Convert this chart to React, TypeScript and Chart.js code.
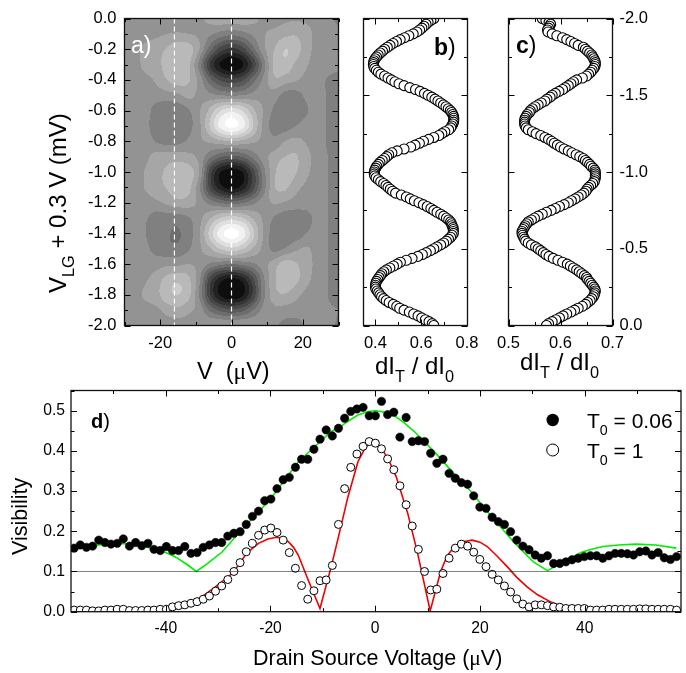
import React, { useEffect, useRef } from "react";
import { Chart, registerables } from "chart.js";

Chart.register(...registerables);

const heatX = [-30, -27, -24, -21, -18, -15, -12, -9, -6, -3, 0, 3, 6, 9, 12, 15, 18, 21, 24, 27, 30];
const heatY = [0, -0.1, -0.2, -0.3, -0.4, -0.5, -0.6, -0.7, -0.8, -0.9, -1, -1.1, -1.2, -1.3, -1.4, -1.5, -1.6, -1.7, -1.8, -1.9, -2];
const heatZ = [
  [0, 0, 0, 0, 0, 0, 0.1, 0.3, 0.8, 1.1, 1.1, 1.1, 0.8, 0.3, 0.1, 0.3, 0.4, 0.3, 0.1, -0.2, -0.7],
  [0, 0, 0.1, 0.3, 0.5, 0.6, 0.5, 0.3, -0.3, -0.9, -1.2, -0.9, -0.3, 0.4, 0.8, 1.2, 1.4, 0.9, 0.2, 0, -0.3],
  [0, 0.2, 0.8, 1.1, 1.6, 2.3, 2, 0.5, -2.1, -4, -4.8, -4, -1.9, 0.2, 1.5, 2.5, 2, 0.9, 0.2, 0, -0.3],
  [0, 0.1, 0.9, 1.2, 1.9, 2.4, 1.7, -0.9, -4.6, -6.7, -7.4, -6.7, -4.3, -1, 1.8, 2.2, 1.3, 0.6, 0.1, 0, -0.2],
  [0, 0, 0.2, 0.7, 1.5, 2, 1.6, 0.1, -2.2, -3.7, -4.2, -3.7, -2, -0.2, 1.3, 1, 0.6, 0.2, 0, -0.6, -0.9],
  [0, 0, 0, 0, 0.1, 0.3, 0.8, 0.2, -0.2, -0.5, -0.6, -0.5, -0.1, 0.2, 0, -0.9, -0.9, -0.3, 0, -0.6, -0.9],
  [0, 0, -0.1, -1, -1.3, -1.2, -0.6, 0.4, 1.8, 3.5, 4.2, 3.5, 1.8, 0.4, -0.7, -1.2, -1.1, -0.6, -0.1, -0.6, -1],
  [0, 0, -0.2, -1.2, -1.4, -1.3, -0.8, 0.3, 2.6, 4.9, 5.8, 4.9, 2.6, 0.2, -0.9, -1, -0.5, -0.1, 0, -0.6, -1.1],
  [0, 0, 0, -0.6, -0.9, -0.8, -0.3, 0.3, 0.7, 1.2, 1.5, 1.2, 0.7, 0.2, -0.2, 0.5, 0.8, 0.4, 0, -0.6, -0.9],
  [0, 0.1, 0.3, 0.9, 1, 1, 0.8, 0.2, -1.3, -2.4, -2.8, -2.4, -1.2, 0.1, 0.9, 1.5, 1.6, 0.8, 0.1, -0.5, -0.8],
  [0, 0, 0.6, 1.2, 1.7, 2.3, 2, 0.5, -4, -6.5, -7.2, -6.5, -4, -0.9, 1.3, 2.2, 1.6, 0.7, 0.1, -0.5, -0.8],
  [0, 0, 0.6, 1.1, 1.6, 2.3, 1.8, -0.3, -3.9, -6.1, -6.9, -6.1, -3.9, -1, 1.4, 1.7, 0.8, 0.3, 0, -0.5, -0.7],
  [0, 0, 0.1, 0.3, 0.7, 1.1, 1, 0.2, -0.9, -1.6, -2, -1.6, -0.8, 0.1, 0.6, 0.4, 0.1, 0, 0, -0.5, -0.8],
  [0, 0, -0.4, -1, -1, -1, -0.6, 0.2, 1.4, 2.6, 3, 2.6, 1.4, 0.3, -0.6, -1.1, -1.2, -0.9, -0.2, -0.5, -0.9],
  [0, 0, -0.5, -1.1, -1.4, -1.6, -0.9, 0.4, 2.9, 5.1, 6, 5.1, 2.8, 0.4, -1, -1.3, -1.2, -0.5, -0.1, -0.5, -1],
  [0, 0, -0.3, -0.9, -1.2, -1.2, -0.6, 0.3, 1.4, 2.6, 3.2, 2.6, 1.4, 0.2, -0.8, -0.4, 0.3, 0.6, 0.1, -0.5, -0.9],
  [0, 0, 0, 0.1, 0.3, 0.3, 0.5, 0.2, -0.7, -1.2, -1.5, -1.2, -0.7, 0.1, 1, 2, 1.6, 0.9, 0.2, -0.5, -0.9],
  [0, 0, 0.4, 1, 1.9, 2.3, 1.7, -0.3, -4, -6.1, -6.8, -6.1, -3.8, -0.7, 1.3, 2.4, 1.8, 0.8, 0.1, -0.5, -0.8],
  [0, 0.2, 0.7, 1.2, 2.2, 2.5, 1.8, -0.6, -4.4, -6.7, -7.4, -6.7, -4.3, -0.8, 1.1, 1.4, 0.8, 0.2, -0.1, -0.5, -0.7],
  [0, 0, 0.1, 0.3, 0.9, 1.2, 0.7, 0.1, -1.7, -2.8, -3.2, -2.8, -1.5, -0.2, 0.2, 0.1, 0, -0.1, -0.2, -0.4, -0.5],
  [0, 0, 0, 0, 0, 0, 0.1, 0.1, 0.5, 0.6, 0.6, 0.6, 0.4, 0.1, -0.3, -0.8, -0.9, -0.3, -0.1, -0.2, -0.6],
];
const heatGrays = [14, 33, 52, 71, 90, 109, 128, 147, 166, 185, 204, 223, 242, 255];
const heatGuides = [-16, 0];

const gateBias = [
  0, -0.0125, -0.025, -0.0375, -0.05, -0.0625, -0.075, -0.0875, -0.1, -0.1125, -0.125, -0.1375, -0.15, -0.1625, -0.175, -0.1875,
  -0.2, -0.2125, -0.225, -0.2375, -0.25, -0.2625, -0.275, -0.2875, -0.3, -0.3125, -0.325, -0.3375, -0.35, -0.3625, -0.375, -0.3875,
  -0.4, -0.4125, -0.425, -0.4375, -0.45, -0.4625, -0.475, -0.4875, -0.5, -0.5125, -0.525, -0.5375, -0.55, -0.5625, -0.575, -0.5875,
  -0.6, -0.6125, -0.625, -0.6375, -0.65, -0.6625, -0.675, -0.6875, -0.7, -0.7125, -0.725, -0.7375, -0.75, -0.7625, -0.775, -0.7875,
  -0.8, -0.8125, -0.825, -0.8375, -0.85, -0.8625, -0.875, -0.8875, -0.9, -0.9125, -0.925, -0.9375, -0.95, -0.9625, -0.975, -0.9875,
  -1, -1.0125, -1.025, -1.0375, -1.05, -1.0625, -1.075, -1.0875, -1.1, -1.1125, -1.125, -1.1375, -1.15, -1.1625, -1.175, -1.1875,
  -1.2, -1.2125, -1.225, -1.2375, -1.25, -1.2625, -1.275, -1.2875, -1.3, -1.3125, -1.325, -1.3375, -1.35, -1.3625, -1.375, -1.3875,
  -1.4, -1.4125, -1.425, -1.4375, -1.45, -1.4625, -1.475, -1.4875, -1.5, -1.5125, -1.525, -1.5375, -1.55, -1.5625, -1.575, -1.5875,
  -1.6, -1.6125, -1.625, -1.6375, -1.65, -1.6625, -1.675, -1.6875, -1.7, -1.7125, -1.725, -1.7375, -1.75, -1.7625, -1.775, -1.7875,
  -1.8, -1.8125, -1.825, -1.8375, -1.85, -1.8625, -1.875, -1.8875, -1.9, -1.9125, -1.925, -1.9375, -1.95, -1.9625, -1.975, -1.9875, -2,
];
const panelB = [
  0.655, 0.642, 0.63, 0.621, 0.612, 0.603, 0.593, 0.581, 0.565, 0.546, 0.527, 0.508, 0.492, 0.477, 0.464, 0.452,
  0.44, 0.431, 0.421, 0.412, 0.405, 0.399, 0.394, 0.392, 0.391, 0.393, 0.397, 0.404, 0.413, 0.424, 0.44, 0.455,
  0.47, 0.485, 0.503, 0.525, 0.55, 0.575, 0.595, 0.614, 0.63, 0.646, 0.66, 0.673, 0.685, 0.697, 0.708, 0.718,
  0.727, 0.733, 0.738, 0.741, 0.742, 0.742, 0.741, 0.738, 0.733, 0.729, 0.72, 0.703, 0.69, 0.677, 0.655, 0.632,
  0.61, 0.592, 0.573, 0.554, 0.525, 0.495, 0.472, 0.458, 0.45, 0.44, 0.43, 0.42, 0.413, 0.406, 0.401, 0.397,
  0.395, 0.395, 0.397, 0.403, 0.413, 0.423, 0.436, 0.446, 0.455, 0.465, 0.475, 0.488, 0.513, 0.535, 0.552, 0.57,
  0.59, 0.609, 0.626, 0.642, 0.655, 0.669, 0.685, 0.698, 0.71, 0.72, 0.728, 0.732, 0.735, 0.739, 0.74, 0.74,
  0.74, 0.735, 0.728, 0.719, 0.71, 0.698, 0.685, 0.669, 0.655, 0.64, 0.622, 0.605, 0.585, 0.56, 0.535, 0.509,
  0.495, 0.479, 0.463, 0.448, 0.437, 0.428, 0.422, 0.416, 0.41, 0.405, 0.402, 0.4, 0.4, 0.402, 0.408, 0.414,
  0.42, 0.427, 0.436, 0.447, 0.46, 0.478, 0.493, 0.506, 0.525, 0.548, 0.567, 0.586, 0.602, 0.618, 0.634, 0.648, 0.655,
];
const panelC = [
  0.573, 0.577, 0.584, 0.591, 0.598, 0.605, 0.612, 0.62, 0.627, 0.634, 0.642, 0.648, 0.652, 0.657, 0.66, 0.663,
  0.665, 0.666, 0.667, 0.666, 0.664, 0.661, 0.658, 0.655, 0.652, 0.65, 0.646, 0.641, 0.636, 0.631, 0.625, 0.619,
  0.613, 0.604, 0.595, 0.586, 0.578, 0.572, 0.567, 0.562, 0.557, 0.552, 0.544, 0.538, 0.533, 0.531, 0.529, 0.527,
  0.526, 0.526, 0.528, 0.53, 0.532, 0.535, 0.538, 0.544, 0.55, 0.557, 0.565, 0.573, 0.582, 0.59, 0.598, 0.607,
  0.615, 0.621, 0.628, 0.634, 0.64, 0.645, 0.649, 0.651, 0.654, 0.658, 0.662, 0.665, 0.666, 0.667, 0.667, 0.667,
  0.667, 0.666, 0.663, 0.659, 0.656, 0.652, 0.648, 0.644, 0.637, 0.63, 0.622, 0.615, 0.607, 0.6, 0.594, 0.588,
  0.583, 0.577, 0.57, 0.562, 0.553, 0.546, 0.538, 0.534, 0.532, 0.531, 0.531, 0.531, 0.532, 0.534, 0.536, 0.54,
  0.542, 0.546, 0.551, 0.557, 0.563, 0.57, 0.574, 0.58, 0.584, 0.59, 0.597, 0.604, 0.609, 0.615, 0.62, 0.625,
  0.631, 0.642, 0.65, 0.654, 0.658, 0.661, 0.664, 0.666, 0.667, 0.667, 0.666, 0.664, 0.662, 0.66, 0.656, 0.652,
  0.648, 0.644, 0.634, 0.627, 0.62, 0.612, 0.604, 0.593, 0.584, 0.576, 0.575, 0.577, 0.579, 0.581, 0.578, 0.572, 0.565,
];

const drainSource = [
  -57.5, -56.33, -55.15, -53.98, -52.8, -51.63, -50.46, -49.28, -48.11, -46.93, -45.76, -44.59, -43.41, -42.24, -41.06, -39.89, -38.72, -37.54, -36.37, -35.19,
  -34.02, -32.85, -31.67, -30.5, -29.32, -28.15, -26.98, -25.8, -24.63, -23.45, -22.28, -21.11, -19.93, -18.76, -17.58, -16.41, -15.24, -14.06, -12.89, -11.71,
  -10.54, -9.37, -8.19, -7.02, -5.84, -4.67, -3.5, -2.32, -1.15, 0.03, 1.2, 2.37, 3.55, 4.72, 5.9, 7.07, 8.24, 9.42, 10.59, 11.77,
  12.94, 14.11, 15.29, 16.46, 17.64, 18.81, 19.98, 21.16, 22.33, 23.51, 24.68, 25.85, 27.03, 28.2, 29.38, 30.55, 31.72, 32.9, 34.07, 35.25,
  36.42, 37.59, 38.77, 39.94, 41.12, 42.29, 43.46, 44.64, 45.81, 46.99, 48.16, 49.33, 50.51, 51.68, 52.86, 54.03, 55.2, 56.38, 57.55,
];
const filledT006 = [
  0.158, 0.166, 0.16, 0.163, 0.178, 0.172, 0.168, 0.17, 0.181, 0.163, 0.172, 0.164, 0.17, 0.155, 0.152, 0.162, 0.152, 0.152, 0.162, 0.145,
  0.147, 0.16, 0.166, 0.172, 0.172, 0.188, 0.195, 0.199, 0.217, 0.237, 0.25, 0.276, 0.28, 0.306, 0.328, 0.334, 0.359, 0.379, 0.379, 0.404,
  0.429, 0.452, 0.437, 0.456, 0.481, 0.498, 0.504, 0.508, 0.487, 0.487, 0.523, 0.49, 0.496, 0.434, 0.483, 0.423, 0.425, 0.423, 0.394, 0.369,
  0.379, 0.344, 0.332, 0.321, 0.317, 0.288, 0.26, 0.257, 0.235, 0.224, 0.217, 0.199, 0.178, 0.163, 0.154, 0.141, 0.133, 0.139, 0.12, 0.12,
  0.124, 0.129, 0.133, 0.137, 0.139, 0.139, 0.133, 0.139, 0.145, 0.145, 0.144, 0.141, 0.149, 0.151, 0.141, 0.147, 0.134, 0.13, 0.137,
];
const openT1 = [
  0.004, 0.004, 0.004, 0.002, 0.002, 0.004, 0.004, 0.006, 0.006, 0.003, 0.003, 0.003, 0.004, 0.004, 0.006, 0.006, 0.012, 0.015, 0.017, 0.021,
  0.025, 0.031, 0.039, 0.051, 0.064, 0.08, 0.1, 0.122, 0.149, 0.17, 0.19, 0.203, 0.208, 0.197, 0.178, 0.147, 0.108, 0.065, 0.031, 0.052,
  0.077, 0.079, 0.115, 0.217, 0.306, 0.359, 0.392, 0.411, 0.423, 0.419, 0.405, 0.38, 0.353, 0.313, 0.266, 0.213, 0.155, 0.1, 0.054, 0.056,
  0.095, 0.133, 0.158, 0.168, 0.163, 0.148, 0.13, 0.112, 0.093, 0.079, 0.064, 0.049, 0.032, 0.019, 0.012, 0.017, 0.017, 0.015, 0.012, 0.011,
  0.008, 0.008, 0.008, 0.008, 0.004, 0.004, 0.004, 0.006, 0.006, 0.006, 0.006, 0.006, 0.007, 0.007, 0.006, 0.006, 0.006, 0.006, 0.004,
];
const greenX = [-58, -55, -52, -50, -48, -46, -44, -42, -40, -38, -36, -34.15, -32, -29.2, -26.1, -20, -14.67, -8.4, -7.08, -5.25, -3.3, -1.5, 0, 1.8, 3.67, 5.5, 7.47, 11.27, 15, 18.2, 22, 26.4, 30.2, 32.9, 35.9, 39.4, 41.5, 43.5, 46.5, 49.8, 53.6, 57.5];
const greenY = [0.16, 0.163, 0.167, 0.169, 0.169, 0.167, 0.162, 0.155, 0.147, 0.135, 0.118, 0.1, 0.12, 0.149, 0.195, 0.28, 0.373, 0.448, 0.456, 0.473, 0.489, 0.497, 0.5, 0.496, 0.487, 0.47, 0.448, 0.398, 0.344, 0.3, 0.24, 0.174, 0.124, 0.102, 0.124, 0.148, 0.156, 0.162, 0.166, 0.168, 0.166, 0.158];
const redX = [-58, -45, -40, -38, -36.5, -35.2, -33, -31.1, -29, -27.3, -26, -24.8, -23.5, -22.3, -20.5, -18.8, -17.5, -16.6, -15.6, -14.7, -12.8, -10.55, -8.4, -7.08, -5.2, -3.3, -2.3, -1.4, -0.25, 0.8, 1.8, 3, 4, 6.2, 8.1, 10.5, 12.5, 13.7, 15.1, 16.8, 18.5, 20, 21.4, 23.3, 25.2, 27, 29, 31, 33.4, 35, 37.2, 41.7, 46.6, 57.5];
const redY = [0, 0.001, 0.004, 0.007, 0.014, 0.021, 0.038, 0.056, 0.077, 0.095, 0.118, 0.141, 0.157, 0.17, 0.181, 0.185, 0.181, 0.174, 0.16, 0.141, 0.079, 0.008, 0.112, 0.183, 0.286, 0.373, 0.398, 0.415, 0.42, 0.41, 0.394, 0.365, 0.336, 0.245, 0.145, 0.002, 0.1, 0.138, 0.162, 0.174, 0.178, 0.173, 0.162, 0.138, 0.112, 0.086, 0.062, 0.042, 0.025, 0.017, 0.011, 0.003, 0.001, 0];
const referenceLevel = [0.1, 0.1];
const referenceX = [-58, 58];

const SANS = '"Liberation Sans", Arial, sans-serif';
const SERIF = '"Liberation Serif", serif';
type Seg = { t: string; sub?: boolean; bold?: boolean; serif?: boolean };
type Label = { segs: Seg[]; x: number; y: number; size: number; color?: string; rot?: boolean };

function drawRich(ctx: CanvasRenderingContext2D, l: Label) {
  ctx.save();
  ctx.translate(l.x, l.y);
  if (l.rot) ctx.rotate(-Math.PI / 2);
  ctx.fillStyle = l.color || "#000";
  ctx.textBaseline = "alphabetic";
  ctx.textAlign = "left";
  let cx = 0;
  for (const s of l.segs) {
    const size = s.sub ? l.size * 0.68 : l.size;
    ctx.font = `${s.bold ? "bold " : ""}${size}px ${s.serif ? SERIF : SANS}`;
    ctx.fillText(s.t, cx, s.sub ? l.size * 0.32 : 0);
    cx += ctx.measureText(s.t).width;
  }
  ctx.restore();
}

function frame(majorX: (v: number) => boolean, majorY: (v: number) => boolean, labels: Label[], extra?: (c: any) => void) {
  return {
    id: "frame",
    afterDatasetsDraw(chart: any) {
      const { ctx, chartArea: a, scales } = chart;
      ctx.save();
      ctx.strokeStyle = "#000";
      ctx.lineWidth = 1;
      ctx.beginPath();
      scales.x.ticks.forEach((t: any) => {
        const p = Math.round(scales.x.getPixelForValue(t.value)) + 0.5;
        const len = majorX(t.value) ? 6 : 3.5;
        ctx.moveTo(p, a.bottom);
        ctx.lineTo(p, a.bottom - len);
        ctx.moveTo(p, a.top);
        ctx.lineTo(p, a.top + len);
      });
      scales.y.ticks.forEach((t: any) => {
        const p = Math.round(scales.y.getPixelForValue(t.value)) + 0.5;
        const len = majorY(t.value) ? 6 : 3.5;
        ctx.moveTo(a.left, p);
        ctx.lineTo(a.left + len, p);
        ctx.moveTo(a.right, p);
        ctx.lineTo(a.right - len, p);
      });
      ctx.stroke();
      ctx.lineWidth = 1.3;
      ctx.strokeStyle = "#111";
      ctx.strokeRect(a.left, a.top, a.right - a.left, a.bottom - a.top);
      ctx.restore();
      if (extra) extra(chart);
      labels.forEach((l) => drawRich(ctx, l));
    },
  };
}

function catmull(p0: number, p1: number, p2: number, p3: number, t: number) {
  return 0.5 * (2 * p1 + (p2 - p0) * t + (2 * p0 - 5 * p1 + 4 * p2 - p3) * t * t + (3 * p1 - p0 - 3 * p2 + p3) * t * t * t);
}
function sampleHeat(v: number, g: number) {
  const fx = Math.min(heatX.length - 1.001, Math.max(0, (v - heatX[0]) / (heatX[1] - heatX[0])));
  const fy = Math.min(heatY.length - 1.001, Math.max(0, (g - heatY[0]) / (heatY[1] - heatY[0])));
  const ix = Math.floor(fx);
  const iy = Math.floor(fy);
  const row = (j: number) => {
    const r = heatZ[Math.max(0, Math.min(heatY.length - 1, j))];
    const c = (i: number) => r[Math.max(0, Math.min(heatX.length - 1, i))];
    return catmull(c(ix - 1), c(ix), c(ix + 1), c(ix + 2), fx - ix);
  };
  return catmull(row(iy - 1), row(iy), row(iy + 1), row(iy + 2), fy - iy);
}
const heatPlugin = {
  id: "heat",
  beforeDatasetsDraw(chart: any) {
    const { ctx, chartArea: a, scales } = chart;
    for (let py = Math.floor(a.top); py < a.bottom; py++) {
      const g = scales.y.getValueForPixel(py + 0.5);
      for (let px = Math.floor(a.left); px < a.right; px++) {
        const v = scales.x.getValueForPixel(px + 0.5);
        const lvl = Math.max(0, Math.min(heatGrays.length - 1, Math.round(sampleHeat(v, g)) + 7));
        const c = heatGrays[lvl];
        ctx.fillStyle = `rgb(${c},${c},${c})`;
        ctx.fillRect(px, py, 1, 1);
      }
    }
  },
};

const XH = 30;
const YW = 50;
const fixX = (s: any) => { s.height = XH; };
const fixY = (s: any) => { s.width = YW; };
const W = 686;
const H = 673;
const box = (l: number, t: number, r: number, b: number, rightAxis = false) => ({
  left: rightAxis ? l : l - YW,
  top: t,
  right: rightAxis ? W - r - YW : W - r,
  bottom: H - b - XH,
});

function xAxis(min: number, max: number, step: number, major: (v: number) => boolean, fmt: (v: number) => string, size: number, pad: number) {
  return {
    type: "linear", min, max, afterFit: fixX,
    grid: { display: false, drawTicks: false }, border: { display: false },
    ticks: { stepSize: step, includeBounds: false, autoSkip: false, maxRotation: 0, padding: pad, color: "#000", font: { size, family: SANS },
      callback: (v: number) => (major(v) ? fmt(v) : "") },
  };
}
function yAxis(min: number, max: number, step: number, major: (v: number) => boolean, fmt: (v: number) => string, size: number, pad: number, position = "left", reverse = false, show = true) {
  return {
    type: "linear", min, max, position, reverse, afterFit: fixY,
    grid: { display: false, drawTicks: false }, border: { display: false },
    ticks: { stepSize: step, includeBounds: false, autoSkip: false, padding: pad, color: "#000", font: { size, family: SANS },
      callback: (v: number) => (show && major(v) ? fmt(v) : "") },
  };
}
const mult = (v: number, m: number) => Math.abs(v / m - Math.round(v / m)) < 1e-6;

const basePts = { showLine: false, pointBackgroundColor: "#fff", pointBorderColor: "#000", pointBorderWidth: 1.1, pointRadius: 5 };

function configA() {
  const mx = (v: number) => mult(v, 20);
  const my = (v: number) => mult(v, 0.2);
  return {
    type: "scatter",
    data: {
      datasets: heatGuides.map((g) => ({
        data: [{ x: g, y: 0 }, { x: g, y: -2 }], showLine: true, pointRadius: 0, borderColor: "#fff", borderWidth: 1.2, borderDash: [5, 3],
      })),
    },
    options: {
      responsive: false, animation: false, events: [],
      layout: { padding: box(124.5, 18.5, 338.5, 325.5) },
      plugins: { legend: { display: false }, tooltip: { enabled: false } },
      scales: {
        x: xAxis(-30, 30, 10, mx, (v) => String(v), 16.5, 8),
        y: yAxis(-2, 0, 0.1, my, (v) => v.toFixed(1), 16.5, 8),
      },
    },
    plugins: [heatPlugin, frame(mx, my, [
      { segs: [{ t: "a)" }], x: 131, y: 53, size: 23, color: "#fff" },
      { segs: [{ t: "V" }, { t: "LG", sub: true }, { t: " + 0.3 V (mV)" }], x: 66, y: 293, size: 24, rot: true },
      { segs: [{ t: "V  (" }, { t: "\u03bc", serif: true }, { t: "V)" }], x: 197, y: 379, size: 23.5 },
    ])],
  };
}
function configB() {
  const mx = (v: number) => mult(v, 0.2);
  const my = (v: number) => mult(v, 0.5);
  return {
    type: "scatter",
    data: { datasets: [{ ...basePts, data: panelB.map((x, i) => ({ x, y: gateBias[i] })) }] },
    options: {
      responsive: false, animation: false, events: [],
      layout: { padding: box(363.5, 18.5, 467.5, 325.5) },
      plugins: { legend: { display: false }, tooltip: { enabled: false } },
      scales: {
        x: xAxis(0.348, 0.802, 0.1, mx, (v) => v.toFixed(1), 16.5, 8),
        y: yAxis(-2, 0, 0.25, my, () => "", 16.5, 8, "left", false, false),
      },
    },
    plugins: [frame(mx, my, [
      { segs: [{ t: "b", bold: true }, { t: ")" }], x: 434, y: 55, size: 23 },
      { segs: [{ t: "dI" }, { t: "T", sub: true }, { t: " / dI" }, { t: "0", sub: true }], x: 375, y: 374, size: 24 },
    ])],
  };
}
function configC() {
  const mx = (v: number) => mult(v, 0.1);
  const my = (v: number) => mult(v, 0.5);
  const pts = panelC.map((x, i) => ({ x, y: gateBias[i] })).reverse();
  return {
    type: "scatter",
    data: { datasets: [{ ...basePts, data: pts }] },
    options: {
      responsive: false, animation: false, events: [],
      layout: { padding: box(508.5, 18.5, 612.5, 325.5, true) },
      plugins: { legend: { display: false }, tooltip: { enabled: false } },
      scales: {
        x: xAxis(0.5, 0.7, 0.05, mx, (v) => v.toFixed(1), 16.5, 8),
        y: yAxis(-2, 0, 0.25, my, (v) => v.toFixed(1), 16.5, 7, "right", true),
      },
    },
    plugins: [frame(mx, my, [
      { segs: [{ t: "c", bold: true }, { t: ")" }], x: 516, y: 53, size: 23 },
      { segs: [{ t: "dI" }, { t: "T", sub: true }, { t: " / dI" }, { t: "0", sub: true }], x: 520, y: 370, size: 24 },
    ])],
  };
}
function configD() {
  const mx = (v: number) => mult(v, 20);
  const my = (v: number) => mult(v, 0.1);
  const zip = (xs: number[], ys: number[]) => xs.map((x, i) => ({ x, y: ys[i] }));
  return {
    type: "scatter",
    data: {
      datasets: [
        { data: zip(referenceX, referenceLevel), showLine: true, pointRadius: 0, borderColor: "#000", borderWidth: 1, borderDash: [1, 1] },
        { ...basePts, data: zip(drainSource, filledT006), pointBackgroundColor: "#000", pointRadius: 4.2, pointBorderWidth: 0.5 },
        { ...basePts, data: zip(drainSource, openT1), pointRadius: 4, pointBorderWidth: 1 },
        { data: zip(greenX, greenY), showLine: true, pointRadius: 0, borderColor: "#00ee00", borderWidth: 1.6 },
        { data: zip(redX, redY), showLine: true, pointRadius: 0, borderColor: "#ee0000", borderWidth: 1.6 },
      ],
    },
    options: {
      responsive: false, animation: false, events: [],
      layout: { padding: box(71, 390.5, 685, 611.7) },
      plugins: { legend: { display: false }, tooltip: { enabled: false } },
      scales: {
        x: xAxis(-58.1, 58.4, 10, mx, (v) => String(v), 15.7, 8),
        y: yAxis(0, 0.55, 0.05, my, (v) => v.toFixed(1), 15.7, 6),
      },
    },
    plugins: [frame(mx, my, [
      { segs: [{ t: "d", bold: true }, { t: ")" }], x: 91, y: 428, size: 20 },
      { segs: [{ t: "Visibility" }], x: 27, y: 555, size: 21.5, rot: true },
      { segs: [{ t: "Drain Source Voltage (" }, { t: "\u03bc", serif: true }, { t: "V)" }], x: 253, y: 665, size: 21.5 },
      { segs: [{ t: "T" }, { t: "0", sub: true }, { t: " = 0.06" }], x: 587, y: 428, size: 21 },
      { segs: [{ t: "T" }, { t: "0", sub: true }, { t: " = 1" }], x: 587, y: 458, size: 21 },
    ], (chart: any) => {
      const { ctx } = chart;
      ctx.save();
      ctx.beginPath();
      ctx.arc(552.7, 420, 6.2, 0, Math.PI * 2);
      ctx.fillStyle = "#000";
      ctx.fill();
      ctx.beginPath();
      ctx.arc(552.7, 450, 6, 0, Math.PI * 2);
      ctx.fillStyle = "#fff";
      ctx.fill();
      ctx.strokeStyle = "#000";
      ctx.lineWidth = 1;
      ctx.stroke();
      ctx.restore();
    })],
  };
}

const configs = [configA, configB, configC, configD];

export default function App() {
  const refs = useRef<(HTMLCanvasElement | null)[]>([]);
  useEffect(() => {
    const charts = configs.map((cfg, i) => new Chart(refs.current[i] as HTMLCanvasElement, cfg() as any));
    return () => charts.forEach((c) => c.destroy());
  }, []);
  return (
    <div style={{ position: "absolute", left: 0, top: 0, width: W, height: H, background: "#fff", overflow: "hidden" }}>
      {configs.map((_, i) => (
        <canvas
          key={i}
          ref={(el) => { refs.current[i] = el; }}
          width={W}
          height={H}
          style={{ position: "absolute", left: 0, top: 0, width: W, height: H }}
        />
      ))}
    </div>
  );
}
